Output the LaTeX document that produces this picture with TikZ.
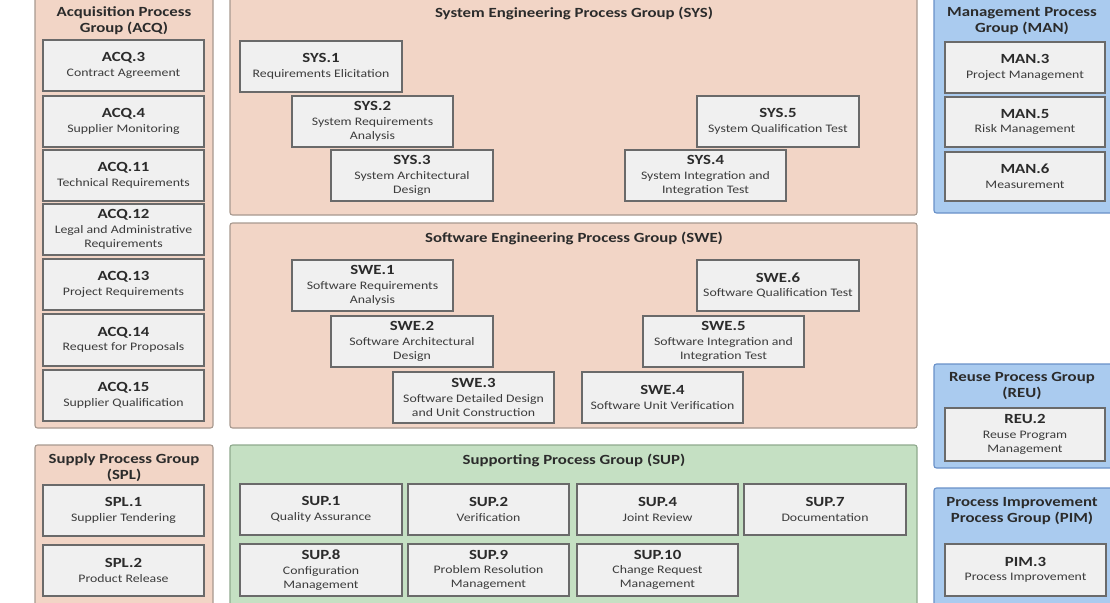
\documentclass[tikz,border=0pt]{standalone}
\usepackage{fontspec}
\setmainfont{Carlito}[FakeStretch=1.2]
\definecolor{peach}{HTML}{F2D5C6}
\definecolor{peachline}{HTML}{A8998F}
\definecolor{bluefill}{HTML}{AACBEF}
\definecolor{blueline}{HTML}{6890C8}
\definecolor{greenfill}{HTML}{C5E0C3}
\definecolor{greenline}{HTML}{8FA98D}
\definecolor{boxfill}{HTML}{F0F0F0}
\definecolor{boxline}{HTML}{6A6A6A}
\definecolor{txtdark}{HTML}{2B2B2B}
\definecolor{txtdesc}{HTML}{3C3C3C}
\newcommand\idfont{\fontsize{14}{14}\selectfont\bfseries\color{txtdark}}
\newcommand\procbox[7]{%
  \node[procbox, minimum width={#4-#2}, minimum height={#5-#3}] (#1) at ({(#2+#4)/2},{(#3+#5)/2}) {{\idfont #6}\\[0.5pt]#7};}
\newcommand\grpbox[6]{%
  \node[grpbox, #6, minimum width={#4-#2}, minimum height={#5-#3}] (#1) at ({(#2+#4)/2},{(#3+#5)/2}) {};}
\tikzset{
  procbox/.style={draw=boxline, line width=1.2pt, fill=boxfill, inner sep=0pt, align=center,
    font=\fontsize{11.5}{14}\selectfont, text=txtdesc},
  grpbox/.style={rounded corners=2.5pt, line width=1.1pt, inner sep=0pt},
  peachgrp/.style={fill=peach, draw=peachline},
  bluegrp/.style={fill=bluefill, draw=blueline},
  greengrp/.style={fill=greenfill, draw=greenline},
  grptitle/.style={font=\fontsize{14}{16}\selectfont\bfseries, text=txtdark, align=center, inner sep=0pt}
}
\begin{document}
\begin{tikzpicture}[x=1pt,y=-1pt]
\useasboundingbox (0,0) rectangle (1110,602);
\clip (0,0) rectangle (1110,602);
% groups
\grpbox{acq}{35}{-6}{213}{428}{peachgrp}
\grpbox{spl}{35}{445}{213}{612}{peachgrp}
\grpbox{sys}{230}{-6}{917}{215}{peachgrp}
\grpbox{swe}{230}{223}{917}{428}{peachgrp}
\grpbox{sup}{230}{445}{917}{612}{greengrp}
\grpbox{man}{934}{-6}{1116}{213}{bluegrp}
\grpbox{reu}{934}{364}{1116}{468}{bluegrp}
\grpbox{pim}{934}{488}{1116}{612}{bluegrp}
% titles
\node[grptitle] (acqt) at (124,21) {Acquisition Process\\Group (ACQ)};
\node[grptitle] (splt) at (124,468) {Supply Process Group\\(SPL)};
\node[grptitle] (syst) at (574,13) {System Engineering Process Group (SYS)};
\node[grptitle] (swet) at (574,238) {Software Engineering Process Group (SWE)};
\node[grptitle] (supt) at (574,460) {Supporting Process Group (SUP)};
\node[grptitle] (mant) at (1022,21) {Management Process\\Group (MAN)};
\node[grptitle] (reut) at (1022,386) {Reuse Process Group\\(REU)};
\node[grptitle] (pimt) at (1022,511) {Process Improvement\\Process Group (PIM)};
% ACQ
\procbox{acq3}{43}{40}{204}{91}{ACQ.3}{Contract Agreement}
\procbox{acq4}{43}{96}{204}{147}{ACQ.4}{Supplier Monitoring}
\procbox{acq11}{43}{150}{204}{201}{ACQ.11}{Technical Requirements}
\procbox{acq12}{43}{204}{204}{255}{ACQ.12}{Legal and Administrative\\Requirements}
\procbox{acq13}{43}{259}{204}{310}{ACQ.13}{Project Requirements}
\procbox{acq14}{43}{314}{204}{366}{ACQ.14}{Request for Proposals}
\procbox{acq15}{43}{370}{204}{421}{ACQ.15}{Supplier Qualification}
% SPL
\procbox{spl1}{43}{485}{204}{536}{SPL.1}{Supplier Tendering}
\procbox{spl2}{43}{545}{204}{596}{SPL.2}{Product Release}
% SYS
\procbox{sys1}{240}{41}{402}{92}{SYS.1}{Requirements Elicitation}
\procbox{sys2}{292}{96}{453}{147}{SYS.2}{System Requirements\\Analysis}
\procbox{sys3}{331}{150}{493}{201}{SYS.3}{System Architectural\\Design}
\procbox{sys4}{625}{150}{786}{201}{SYS.4}{System Integration and\\Integration Test}
\procbox{sys5}{697}{96}{859}{147}{SYS.5}{System Qualification Test}
% MAN
\procbox{man3}{945}{42}{1105}{93}{MAN.3}{Project Management}
\procbox{man5}{945}{97}{1105}{147}{MAN.5}{Risk Management}
\procbox{man6}{945}{152}{1105}{201}{MAN.6}{Measurement}
% SWE
\procbox{swe1}{292}{260}{453}{311}{SWE.1}{Software Requirements\\Analysis}
\procbox{swe2}{331}{316}{493}{367}{SWE.2}{Software Architectural\\Design}
\procbox{swe3}{393}{372}{554}{423}{SWE.3}{Software Detailed Design\\and Unit Construction}
\procbox{swe4}{582}{372}{743}{423}{SWE.4}{Software Unit Verification}
\procbox{swe5}{643}{316}{804}{367}{SWE.5}{Software Integration and\\Integration Test}
\procbox{swe6}{697}{260}{859}{311}{SWE.6}{Software Qualification Test}
% REU
\procbox{reu2}{945}{408}{1105}{461}{REU.2}{Reuse Program\\Management}
% SUP
\procbox{sup1}{240}{484}{402}{535}{SUP.1}{Quality Assurance}
\procbox{sup2}{408}{484}{569}{535}{SUP.2}{Verification}
\procbox{sup4}{577}{484}{738}{535}{SUP.4}{Joint Review}
\procbox{sup7}{744}{484}{906}{535}{SUP.7}{Documentation}
\procbox{sup8}{240}{544}{402}{596}{SUP.8}{Configuration\\Management}
\procbox{sup9}{408}{544}{569}{596}{SUP.9}{Problem Resolution\\Management}
\procbox{sup10}{577}{544}{738}{596}{SUP.10}{Change Request\\Management}
% PIM
\procbox{pim3}{945}{544}{1106}{596}{PIM.3}{Process Improvement}
\end{tikzpicture}
\end{document}
